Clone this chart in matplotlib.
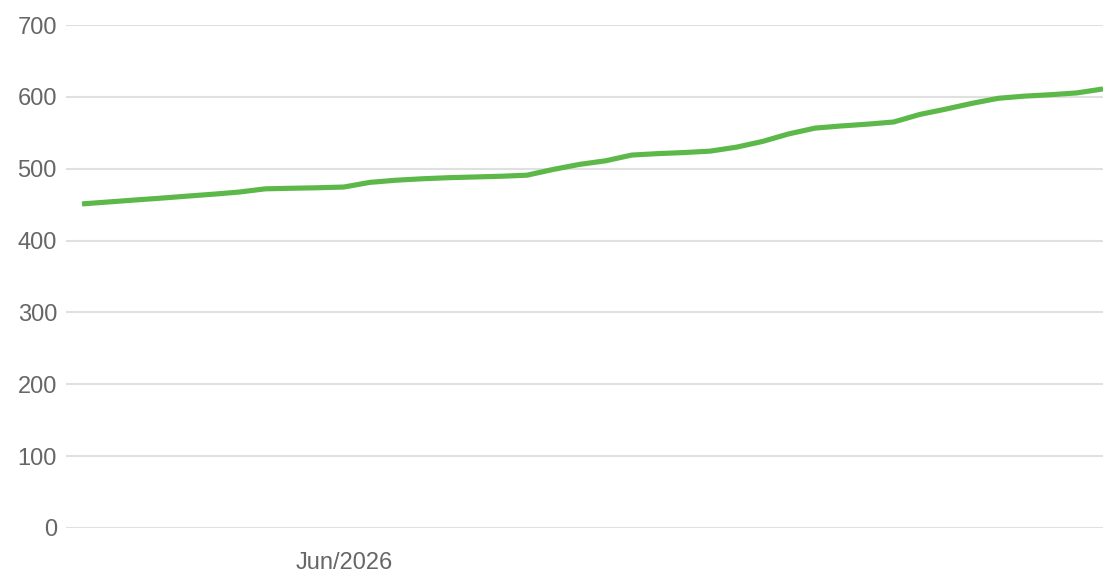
import numpy as np
import pandas as pd
import matplotlib
matplotlib.use("Agg")
import matplotlib.pyplot as plt
import matplotlib.dates as mdates

# weekly values
dates = pd.date_range("2026-03-23", periods=40, freq="7D")
values = [451, 453.7, 456.4, 459, 461.8, 464.5, 467.5, 472, 472.8, 473.5,
          474.5, 481, 484, 486, 487.5, 488.5, 489.5, 491, 499, 506,
          511, 519, 521, 522.5, 524.5, 530, 538, 548.5, 556.5, 559.5,
          562, 565, 575.5, 583, 591, 598, 601, 603, 605.5, 611]
y_ticks = [0, 100, 200, 300, 400, 500, 600, 700]
x_tick_dates = [pd.Timestamp("2026-06-01")]

plt.rcParams['font.family'] = ['Liberation Sans', 'DejaVu Sans']

fig = plt.figure(figsize=(11.03, 5.77), dpi=100)
ax = fig.add_axes([66 / 1103, 49 / 577, 1 - 66 / 1103, 503 / 577])

ax.plot(dates, values, color="#5cb848", lw=3.7, solid_joinstyle="round",
        solid_capstyle="butt", zorder=3)

ax.set_ylim(0, 700)
ax.set_yticks(y_ticks)
ax.set_xlim(dates[0] - pd.Timedelta(days=4.28), dates[-1])
ax.set_xticks(x_tick_dates)
ax.xaxis.set_major_formatter(mdates.DateFormatter("%b/%Y"))

ax.grid(axis="y", color="#e0e0e0", lw=1.5)
ax.grid(axis="x", visible=False)
ax.set_axisbelow(True)
for s in ax.spines.values():
    s.set_visible(False)
ax.tick_params(axis="both", length=0, colors="#666666", labelsize=17)
ax.tick_params(axis="y", pad=6.5)
ax.tick_params(axis="x", pad=17)

fig.savefig("out.png", dpi=100)
